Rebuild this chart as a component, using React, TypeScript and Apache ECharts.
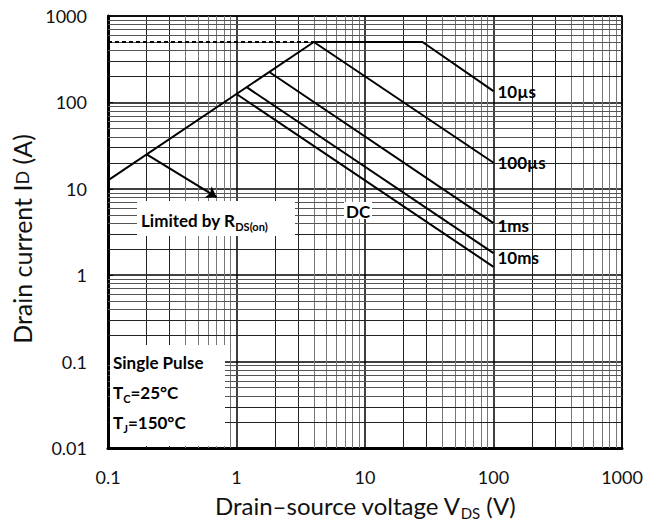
import React, { useEffect, useRef } from "react";
import * as echarts from "echarts";

const FONT = "Lato, 'Open Sans', sans-serif";

const xTickValues = [0.1, 1, 10, 100, 1000];
const xTickLabels = ["0.1", "1", "10", "100", "1000"];
const yTickValues = [0.01, 0.1, 1, 10, 100, 1000];
const yTickLabels = ["0.01", "0.1", "1", "10", "100", "1000"];
const minorMultipliers = [2, 3, 4, 5, 6, 7, 8, 9];
const xDecades = [0.1, 1, 10, 100];
const yDecades = [0.01, 0.1, 1, 10, 100];

const rdsLimit = [[0.1, 12.5], [4, 500]];
const currentLimit = [[0.1, 500], [4, 500]];
const pulse10us = [[4, 500], [28, 500], [100, 135]];
const pulse100us = [[4, 500], [100, 20]];
const pulse1ms = [[1.8, 225], [100, 4]];
const pulse10ms = [[1.2, 150], [100, 1.8]];
const dcLine = [[1, 125], [100, 1.25]];
const rdsArrow = [[0.2, 25], [0.7, 8]];

const curveNames = ["10µs", "100µs", "1ms", "10ms", "DC"];

function fmt(values: number[], labels: string[]) {
  return (v: number) => {
    const i = values.findIndex((t) => Math.abs(Math.log10(t) - Math.log10(v)) < 1e-6);
    return i >= 0 ? labels[i] : "";
  };
}

const subStyle = {
  fontSize: 11,
  fontWeight: "bold",
  fontFamily: FONT,
  fill: "#000",
  verticalAlign: "bottom",
  lineHeight: 11,
};

function noteStyle(text: string) {
  return {
    text,
    fill: "#000",
    font: `bold 17px ${FONT}`,
    lineHeight: 24,
    verticalAlign: "middle",
    rich: { s: subStyle },
  };
}

export default function App() {
  const ref = useRef<HTMLDivElement>(null);
  useEffect(() => {
    const chart = echarts.init(ref.current!, null, { renderer: "svg" });
    const minorX = xDecades.flatMap((d) =>
      minorMultipliers.map((m) => ({
        xAxis: d * m,
        lineStyle: { color: m <= 3 ? "#222" : "#777", width: 1, type: "solid" },
      }))
    );
    const minorY = yDecades.flatMap((d) =>
      minorMultipliers.map((m) => ({
        yAxis: d * m,
        lineStyle: { color: m <= 3 ? "#222" : "#555", width: 1, type: "solid" },
      }))
    );
    const curve = (name: string, data: number[][], label: boolean, offsetY = 0) => ({
      type: "line",
      name,
      data,
      z: 10,
      symbol: "none",
      showSymbol: false,
      silent: true,
      lineStyle: { color: "#000", width: 2 },
      endLabel: {
        show: label,
        formatter: name,
        distance: 4,
        offset: [0, offsetY],
        color: "#000",
        fontFamily: FONT,
        fontWeight: "bold",
        fontSize: 17,
      },
    });
    chart.setOption({
      animation: false,
      backgroundColor: "#fff",
      grid: {
        left: 108,
        right: 39,
        top: 16,
        bottom: 74,
        show: true,
        borderColor: "#000",
        borderWidth: 1.5,
        containLabel: false,
        outerBoundsMode: "none",
      },
      xAxis: {
        type: "log",
        logBase: 10,
        min: 0.1,
        max: 1000,
        axisLine: { show: true, onZero: false, lineStyle: { color: "#000", width: 3 } },
        axisTick: { show: false },
        axisLabel: {
          formatter: fmt(xTickValues, xTickLabels),
          fontSize: 18,
          color: "#111",
          margin: 20,
          fontFamily: FONT,
        },
        splitLine: { show: true, lineStyle: { color: "#000", width: 1.5 } },
        name: "Drain–source voltage V{s|DS} (V)",
        nameLocation: "middle",
        nameGap: 42,
        nameTextStyle: {
          fontSize: 24,
          lineHeight: 30,
          color: "#111",
          fontFamily: FONT,
          rich: {
            s: { fontSize: 15, fontFamily: FONT, color: "#111", verticalAlign: "bottom", lineHeight: 15 },
          },
        },
      },
      yAxis: {
        type: "log",
        logBase: 10,
        min: 0.01,
        max: 1000,
        axisLine: { show: true, onZero: false, lineStyle: { color: "#000", width: 3 } },
        axisTick: { show: true, inside: true, length: 5, lineStyle: { color: "#000" } },
        axisLabel: {
          formatter: fmt(yTickValues, yTickLabels),
          fontSize: 18,
          color: "#111",
          margin: 21,
          fontFamily: FONT,
        },
        splitLine: { show: true, lineStyle: { color: "#000", width: 1.5 } },
        name: "Drain current I{s|D} (A)",
        nameLocation: "middle",
        nameGap: 66,
        nameRotate: 90,
        nameTextStyle: {
          fontSize: 25,
          color: "#111",
          fontFamily: FONT,
          padding: [0, 14, 0, 0],
          rich: { s: { fontSize: 18, fontFamily: FONT, color: "#111" } },
        },
      },
      series: [
        {
          type: "line",
          data: [[1, 1]],
          symbol: "none",
          z: 1,
          silent: true,
          lineStyle: { opacity: 0 },
          markLine: {
            z: 1,
            silent: true,
            symbol: "none",
            label: { show: false },
            animation: false,
            data: [...minorX, ...minorY],
          },
        },
        {
          type: "line",
          name: "limit",
          data: currentLimit,
          z: 10,
          symbol: "none",
          silent: true,
          lineStyle: { color: "#000", width: 2, type: [4, 3] },
        },
        {
          type: "line",
          name: "rds",
          data: rdsLimit,
          z: 10,
          symbol: "none",
          silent: true,
          lineStyle: { color: "#000", width: 2 },
          markLine: {
            z: 12,
            silent: true,
            symbol: ["none", "arrow"],
            symbolSize: 10,
            label: { show: false },
            lineStyle: { color: "#000", width: 2, type: "solid" },
            data: [[{ coord: rdsArrow[0] }, { coord: rdsArrow[1] }]],
          },
        },
        curve(curveNames[0], pulse10us, true),
        curve(curveNames[1], pulse100us, true),
        curve(curveNames[2], pulse1ms, true, 2),
        curve(curveNames[3], pulse10ms, true, 4),
        curve(curveNames[4], dcLine, false),
      ],
      graphic: [
        { type: "rect", z: 6, shape: { x: 137, y: 201, width: 158, height: 35 }, style: { fill: "#fff" } },
        { type: "rect", z: 6, shape: { x: 344, y: 202, width: 28, height: 17 }, style: { fill: "#fff" } },
        { type: "rect", z: 6, shape: { x: 110, y: 345, width: 115, height: 101 }, style: { fill: "#fff" } },
        { type: "text", z: 20, x: 141, y: 220, style: noteStyle("Limited by R{s|DS(on)}") },
        { type: "text", z: 20, x: 346, y: 211, style: noteStyle("DC") },
        { type: "text", z: 20, x: 113, y: 362, style: noteStyle("Single Pulse") },
        { type: "text", z: 20, x: 113, y: 392, style: noteStyle("T{s|C}=25°C") },
        { type: "text", z: 20, x: 113, y: 422, style: noteStyle("T{s|J}=150°C") },
      ],
    });
    return () => chart.dispose();
  }, []);
  return (
    <div
      ref={ref}
      style={{ position: "fixed", left: 0, top: 0, width: 661, height: 522, background: "#fff" }}
    />
  );
}
